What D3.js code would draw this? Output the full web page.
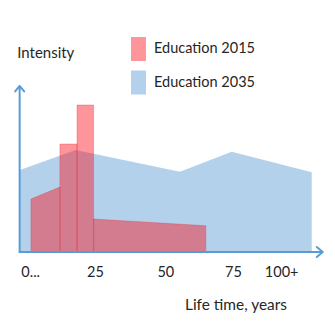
<!DOCTYPE html>
<html><head><meta charset="utf-8">
<script src="https://cdn.jsdelivr.net/npm/d3@7"></script>
<style>html,body{margin:0;padding:0;background:#fff;}svg{display:block;}</style>
</head><body>
<script>
// ---- data (years on x, relative intensity on y) ----
const blueYears = [-2.4, 17.8, 55.6, 74.4, 103.4];
const blueValues = [54.7, 68, 53.5, 66.9, 53.1];
// red pieces: [startYear, endYear, startValue, endValue]
const redStart = [1.6, 12.1, 18.3, 24.3];
const redEnd   = [12.1, 18.3, 24.3, 65];
const redFrom  = [35.3, 72, 98, 22];
const redTo    = [43.3, 72, 98, 17.5];
const tickValues = [1.5, 25, 50.5, 75, 92.5];
const tickLabels = ["0...", "25", "50", "75", "100+"];
const legendLabels = ["Education 2015", "Education 2035"];

const W = 335, H = 331;
const svg = d3.select("body").append("svg").attr("width", W).attr("height", H);
const x = d3.scaleLinear().domain([0, 100]).range([26.55, 302.35]);
const y = d3.scaleLinear().domain([0, 100]).range([252, 102]);
const axisColor = "#5b9bd5";
const blueFill = "rgba(91,155,213,0.46)";
const redFill = "rgba(250,20,30,0.45)";

// blue area
const bluePts = blueYears.map((v, i) => [v, blueValues[i]]);
const area = d3.area().x(d => x(d[0])).y0(y(0)).y1(d => y(d[1]));
svg.append("path").datum(bluePts).attr("d", area).attr("fill", blueFill);

// red pieces
const redPieces = redStart.map((s, i) => [[s, redFrom[i]], [redEnd[i], redTo[i]]]);
svg.selectAll("path.red").data(redPieces).enter().append("path")
  .attr("class", "red")
  .attr("d", area)
  .attr("fill", redFill)
  .attr("stroke", "rgba(235,40,50,0.3)")
  .attr("stroke-width", 1);

// axes
const x0 = x(-2.5), yBase = y(0), xEnd = x(107.4), yTop = y(110.7);
const g = svg.append("g").attr("stroke", axisColor).attr("stroke-width", 2).attr("fill", "none")
  .attr("stroke-linecap", "round").attr("stroke-linejoin", "round");
g.append("line").attr("x1", x0).attr("y1", yBase).attr("x2", xEnd - 1).attr("y2", yBase);
g.append("line").attr("x1", x0).attr("y1", yBase).attr("x2", x0).attr("y2", yTop + 1);
g.append("path").attr("d", `M${xEnd-6},${yBase-5}L${xEnd},${yBase}L${xEnd-6},${yBase+5}`);
g.append("path").attr("d", `M${x0-4.5},${yTop+5.5}L${x0},${yTop}L${x0+4.5},${yTop+5.5}`);

const font = "Lato, 'Open Sans', sans-serif";
const textColor = "#262626";

// tick labels
const ticks = svg.append("g").attr("font-family", font).attr("font-size", 14.5).attr("fill", textColor);
ticks.selectAll("text").data(tickValues).enter().append("text")
  .attr("x", d => x(d)).attr("y", 276.7).attr("text-anchor", "middle")
  .text((d, i) => tickLabels[i]);

// axis titles
svg.append("text").attr("x", 185).attr("y", 310).attr("font-family", font).attr("font-size", 14.5)
  .attr("fill", textColor).attr("textLength", 102).attr("lengthAdjust", "spacingAndGlyphs").text("Life time, years");
svg.append("text").attr("x", 17.3).attr("y", 58.3).attr("font-family", font).attr("font-size", 14.5)
  .attr("fill", textColor).attr("textLength", 57).attr("lengthAdjust", "spacingAndGlyphs").text("Intensity");

// legend
const legendFills = [redFill, blueFill];
const lg = svg.append("g");
legendLabels.forEach((lab, i) => {
  const top = 37 + i * 33.5;
  lg.append("rect").attr("x", 131).attr("y", top).attr("width", 15).attr("height", 24)
    .attr("fill", legendFills[i]);
  lg.append("text").attr("x", 154).attr("y", 53.3 + i * 33.4).attr("font-family", font)
    .attr("font-size", 16).attr("fill", textColor)
    .attr("textLength", 101).attr("lengthAdjust", "spacingAndGlyphs").text(lab);
});
</script>
</body></html>
